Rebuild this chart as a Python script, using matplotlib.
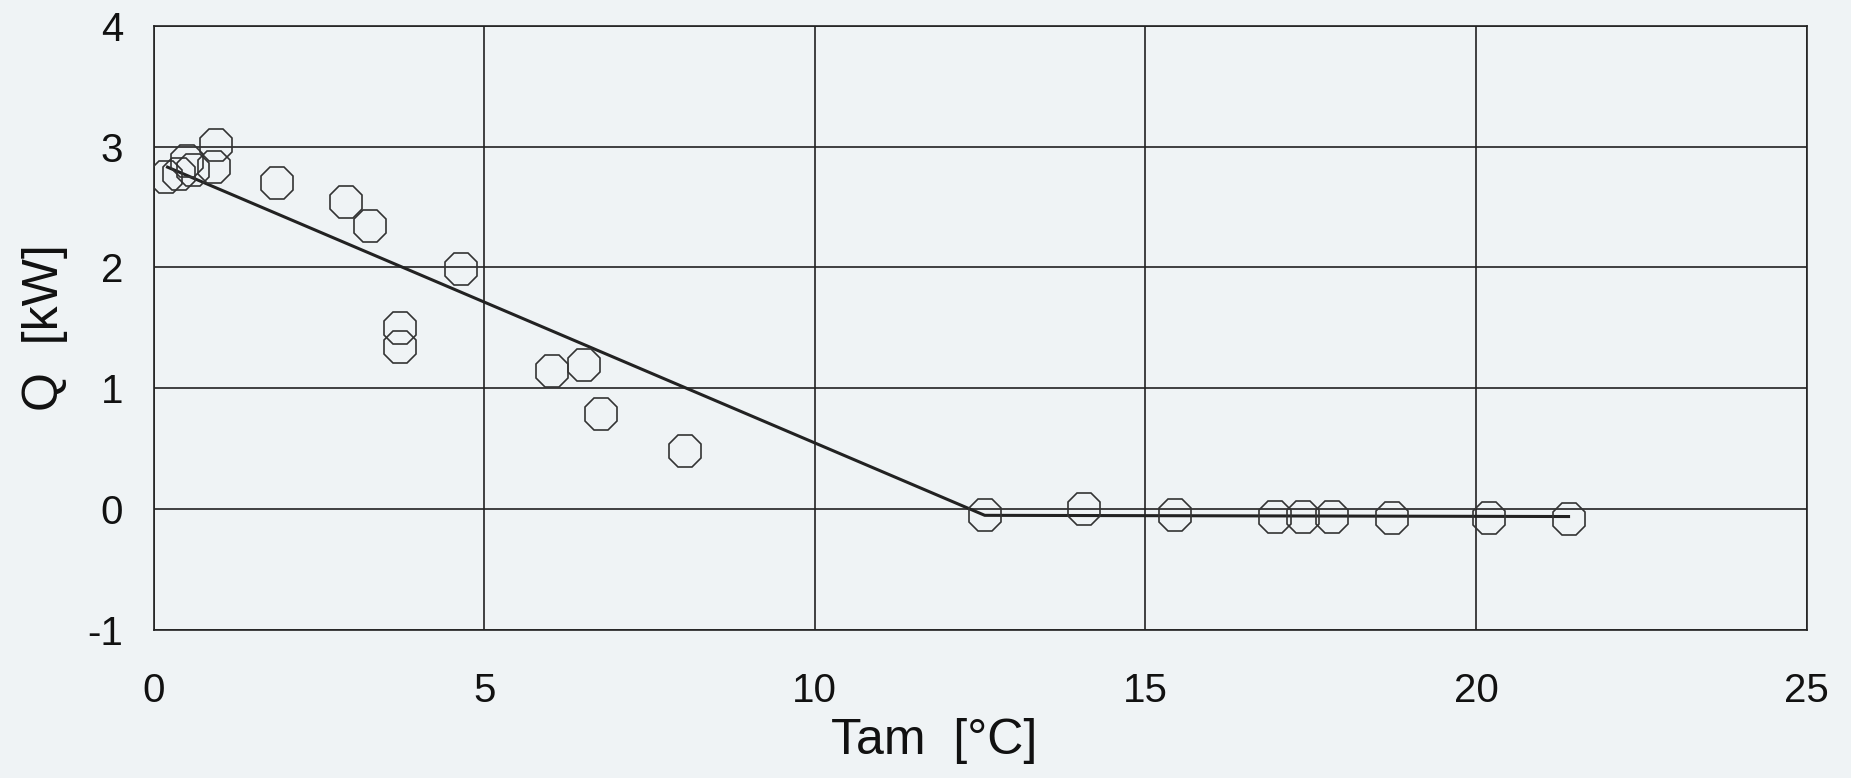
import matplotlib
matplotlib.use("Agg")
from matplotlib import pyplot as plt

# measured points
tam = [0.18, 0.39, 0.50, 0.59, 0.94, 0.91, 1.86, 2.91, 3.28, 3.72, 3.72, 4.65,
       6.03, 6.51, 6.76, 8.03, 12.57, 14.07, 15.45, 16.96, 17.39, 17.82, 18.73,
       20.19, 21.40]
q = [2.75, 2.77, 2.88, 2.81, 3.01, 2.83, 2.70, 2.54, 2.34, 1.50, 1.34, 1.99,
     1.14, 1.19, 0.79, 0.48, -0.05, 0.0, -0.05, -0.06, -0.06, -0.06, -0.07,
     -0.07, -0.08]

# fitted piecewise line
fit_x = [0.21, 12.57, 21.40]
fit_y = [2.83, -0.05, -0.06]

x_ticks = [0, 5, 10, 15, 20, 25]
y_ticks = [-1, 0, 1, 2, 3, 4]

bg = "#eff3f5"
plt.rcParams['font.family'] = ['Liberation Sans', 'DejaVu Sans']
plt.rcParams['axes.unicode_minus'] = False

fig = plt.figure(figsize=(18.51, 7.78), dpi=100, facecolor=bg)
ax = fig.add_axes([0.083, 0.19, 0.893, 0.777], facecolor=bg)

ax.plot(fit_x, fit_y, color="#222222", lw=2.2, zorder=2)
ax.plot(tam, q, linestyle="none", marker="8", markersize=25,
        markerfacecolor="none", markeredgecolor="#333333", markeredgewidth=1.2,
        zorder=3)

ax.set_xlim(0, 25)
ax.set_ylim(-1, 4)
ax.set_xticks(x_ticks)
ax.set_yticks(y_ticks)
ax.grid(True, color="#222222", lw=1.2)
ax.set_axisbelow(True)
for s in ax.spines.values():
    s.set_color("#222222")
    s.set_linewidth(1.2)

ax.tick_params(axis="both", length=0, labelsize=29, colors="#111111")
ax.tick_params(axis="x", pad=30)
ax.tick_params(axis="y", pad=22)

ax.set_xlabel("Tam  [°C]", fontsize=36, color="#111111", labelpad=8)
ax.xaxis.set_label_coords(0.472, -0.145)
ax.set_ylabel("Q  [kW]", fontsize=36, color="#111111", labelpad=14)

fig.savefig("out.png", dpi=100, facecolor=bg)
